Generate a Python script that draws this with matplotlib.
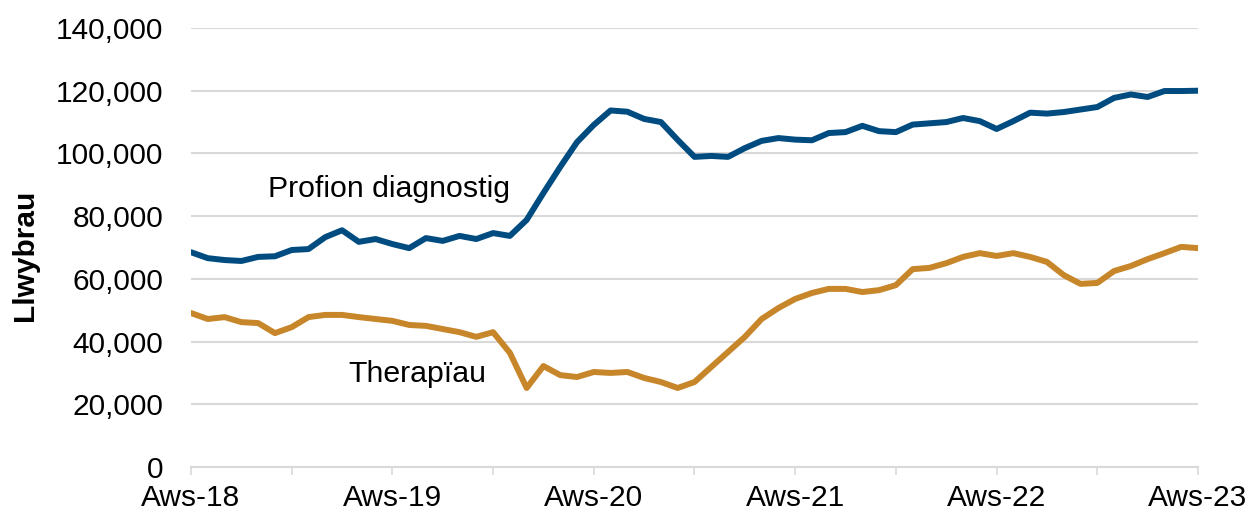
import numpy as np
import matplotlib
matplotlib.use("Agg")
import matplotlib.pyplot as plt

plt.rcParams['font.family'] = ['Liberation Sans', 'DejaVu Sans']

# monthly values, Aug 2018 - Aug 2023
diagnostig = [68500, 66600, 66000, 65700, 67000, 67200, 69200, 69500, 73300, 75500,
              71800, 72700, 71100, 69800, 73000, 72100, 73700, 72700, 74600, 73700,
              78800, 87400, 95700, 103600, 109100, 113700, 113300, 111000, 110000, 104300,
              98900, 99200, 98900, 101700, 104000, 104900, 104400, 104200, 106500, 106800,
              108800, 107100, 106800, 109200, 109600, 110000, 111300, 110300, 107800, 110300,
              113000, 112700, 113200, 114000, 114800, 117700, 118800, 118000, 119900, 119900,
              120000]
therapiau = [49100, 47200, 47800, 46200, 45900, 42700, 44600, 47800, 48500, 48500,
             47800, 47200, 46600, 45300, 45000, 44000, 43000, 41500, 43000, 36400,
             25200, 32200, 29300, 28700, 30300, 30000, 30300, 28400, 27100, 25200,
             27100, 31900, 36700, 41500, 47200, 50700, 53600, 55500, 56800, 56800,
             55800, 56400, 58000, 63100, 63500, 65000, 67000, 68200, 67300, 68200,
             67000, 65400, 61200, 58400, 58700, 62500, 64100, 66300, 68200, 70200,
             69800]
tick_labels = ["Aws-18", "Aws-19", "Aws-20", "Aws-21", "Aws-22", "Aws-23"]

x = np.arange(len(diagnostig))

fig = plt.figure(figsize=(12.58, 5.2), dpi=100)
ax = fig.add_axes([191/1258, 53/520, 1007/1258, 439/520])

ax.plot(x, diagnostig, color="#004b7f", lw=4.3, solid_capstyle="round", solid_joinstyle="round")
ax.plot(x, therapiau, color="#c8862a", lw=4.3, solid_capstyle="round", solid_joinstyle="round")

ax.set_xlim(0, 60)
ax.set_ylim(0, 140000)
ax.set_yticks(np.arange(0, 140001, 20000))
ax.set_yticklabels(["{:,}".format(v) for v in range(0, 140001, 20000)])
ax.set_xticks(np.arange(0, 61, 12))
ax.set_xticklabels(tick_labels)
ax.set_xticks(np.arange(6, 61, 12), minor=True)

ax.grid(axis="y", color="#d9d9d9", lw=1.5)
ax.set_axisbelow(True)
for s in ["left", "right", "top"]:
    ax.spines[s].set_visible(False)
ax.spines["bottom"].set_color("#d9d9d9")
ax.spines["bottom"].set_linewidth(1.5)

ax.tick_params(axis="y", length=0, pad=20, labelsize=21.5, colors="black")
ax.tick_params(axis="x", which="both", length=6, width=1.2, color="#d9d9d9", pad=6, labelsize=21.5)

ax.set_ylabel("Llwybrau", fontsize=21.5, fontweight="bold")
ax.yaxis.set_label_coords(-0.151, 0.483)

ax.text(4.6, 88500, "Profion diagnostig", fontsize=21.8, va="center", ha="left")
ax.text(9.4, 29500, "Therapïau", fontsize=21.8, va="center", ha="left")

plt.savefig("out.png", dpi=100)
